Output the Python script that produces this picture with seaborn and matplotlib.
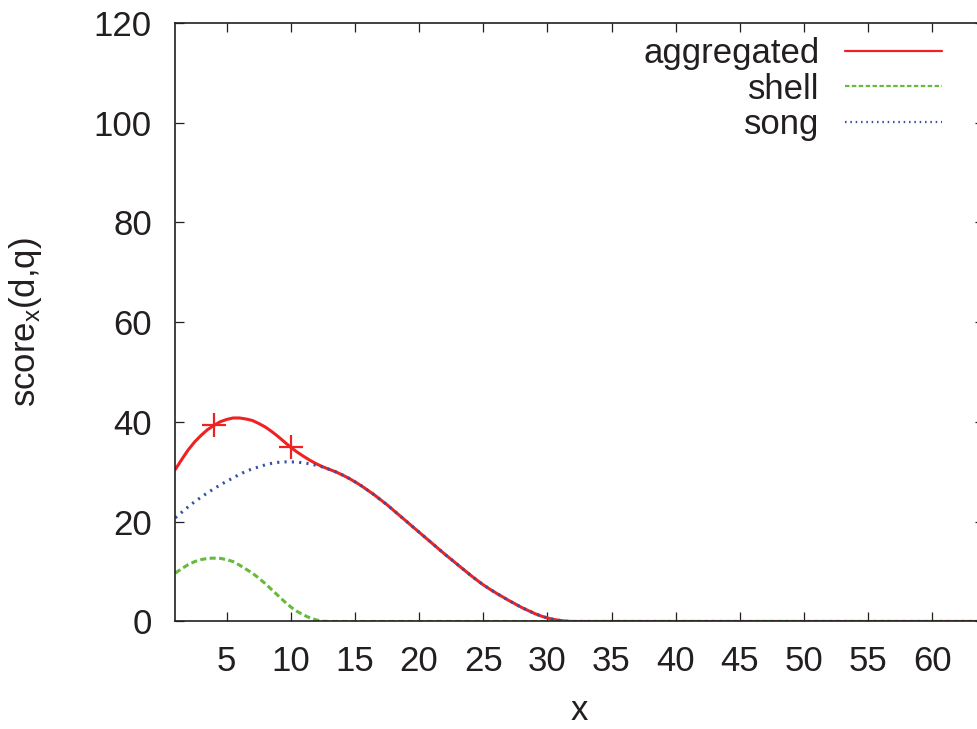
import matplotlib
matplotlib.use("Agg")
import matplotlib.pyplot as plt
from matplotlib.lines import Line2D
import pandas as pd
import seaborn as sns

# position along the sequence: half steps over the active range, whole steps after
x = [i / 2 for i in range(2, 65)] + list(range(33, 65))

# per-source scores at each position
shell = [
    9.7, 10.6, 11.4, 12.0, 12.4, 12.65, 12.7, 12.65, 12.4, 12.0,
    11.3, 10.5, 9.7, 8.7, 7.6, 6.4, 5.2, 4.0, 2.9, 2.0,
    1.3, 0.7, 0.3, 0.05, 0.0, 0.0, 0.0, 0.0, 0.0, 0.0,
    0.0, 0.0, 0.0, 0.0, 0.0, 0.0, 0.0, 0.0, 0.0, 0.0,
    0.0, 0.0, 0.0, 0.0, 0.0, 0.0, 0.0, 0.0, 0.0, 0.0,
    0.0, 0.0, 0.0, 0.0, 0.0, 0.0, 0.0, 0.0, 0.0, 0.0,
    0.0, 0.0, 0.0,
    0.0, 0.0, 0.0, 0.0, 0.0, 0.0, 0.0, 0.0, 0.0, 0.0,
    0.0, 0.0, 0.0, 0.0, 0.0, 0.0, 0.0, 0.0, 0.0, 0.0,
    0.0, 0.0, 0.0, 0.0, 0.0, 0.0, 0.0, 0.0, 0.0, 0.0,
    0.0, 0.0,
]
song = [
    20.8, 21.9, 23.0, 24.0, 24.9, 25.8, 26.6, 27.4, 28.1, 28.8,
    29.5, 30.1, 30.6, 31.0, 31.4, 31.7, 31.9, 32.0, 32.0, 31.95,
    31.8, 31.6, 31.3, 30.95, 30.5, 30.0, 29.4, 28.75, 28.0, 27.2,
    26.3, 25.4, 24.4, 23.4, 22.3, 21.2, 20.1, 19.0, 17.9, 16.8,
    15.7, 14.6, 13.5, 12.45, 11.4, 10.35, 9.3, 8.3, 7.35, 6.5,
    5.7, 4.95, 4.2, 3.5, 2.8, 2.2, 1.6, 1.1, 0.7, 0.4,
    0.2, 0.05, 0.0,
    0.0, 0.0, 0.0, 0.0, 0.0, 0.0, 0.0, 0.0, 0.0, 0.0,
    0.0, 0.0, 0.0, 0.0, 0.0, 0.0, 0.0, 0.0, 0.0, 0.0,
    0.0, 0.0, 0.0, 0.0, 0.0, 0.0, 0.0, 0.0, 0.0, 0.0,
    0.0, 0.0,
]
aggregated = [
    30.5, 32.5, 34.4, 36.0, 37.3, 38.45, 39.3, 40.05, 40.5, 40.8,
    40.8, 40.6, 40.3, 39.7, 39.0, 38.1, 37.1, 36.0, 34.9, 33.95,
    33.1, 32.3, 31.6, 31.0, 30.5, 30.0, 29.4, 28.75, 28.0, 27.2,
    26.3, 25.4, 24.4, 23.4, 22.3, 21.2, 20.1, 19.0, 17.9, 16.8,
    15.7, 14.6, 13.5, 12.45, 11.4, 10.35, 9.3, 8.3, 7.35, 6.5,
    5.7, 4.95, 4.2, 3.5, 2.8, 2.2, 1.6, 1.1, 0.7, 0.4,
    0.2, 0.05, 0.0,
    0.0, 0.0, 0.0, 0.0, 0.0, 0.0, 0.0, 0.0, 0.0, 0.0,
    0.0, 0.0, 0.0, 0.0, 0.0, 0.0, 0.0, 0.0, 0.0, 0.0,
    0.0, 0.0, 0.0, 0.0, 0.0, 0.0, 0.0, 0.0, 0.0, 0.0,
    0.0, 0.0,
]

# positions of the highlighted query hits on the aggregated curve
hit_x = [4, 10]

series_names = ["aggregated", "shell", "song"]
x_ticks = list(range(5, 61, 5))
y_ticks = list(range(0, 121, 20))

colors = {"aggregated": "#ee2222", "shell": "#66bb3a", "song": "#3352a6"}
dash_styles = {"aggregated": None, "shell": (2.0, 1.1), "song": (0.7, 1.7)}

df = pd.DataFrame({"x": x, "aggregated": aggregated, "shell": shell, "song": song})
long_df = df.melt(id_vars="x", value_vars=series_names, var_name="series", value_name="score")
hits = df[df["x"].isin(hit_x)]

sns.set_theme(style="ticks")
plt.rcParams["font.family"] = ["Liberation Sans", "DejaVu Sans"]
plt.rcParams["mathtext.default"] = "regular"
ink = "#231f20"

fig = plt.figure(figsize=(9.77, 7.29), dpi=100)
ax = fig.add_axes([0.1795, 0.1475, 0.8272, 0.821])

# aggregated first, so the component curves show through on top of it
for name in series_names:
    sub = long_df[long_df["series"] == name]
    sns.lineplot(data=sub, x="x", y="score", ax=ax, color=colors[name],
                 linewidth=2.2, legend=False, estimator=None, sort=True)
    ln = ax.get_lines()[-1]
    if dash_styles[name] is not None:
        ln.set_dashes(dash_styles[name])
        ln.set_dash_capstyle("butt")

sns.scatterplot(data=hits, x="x", y="aggregated", ax=ax, marker="+", s=280,
                color=colors["aggregated"], linewidth=1.6, zorder=5, legend=False)

ax.set_xlim(1, 64)
ax.set_ylim(0, 120)
ax.set_xticks(x_ticks)
ax.set_yticks(y_ticks)
ax.tick_params(axis="both", direction="in", length=6.5, width=0.9, colors=ink,
               labelsize=25, top=True, right=True)
ax.tick_params(axis="y", pad=17)
ax.tick_params(axis="x", pad=17)
for side, sp in ax.spines.items():
    sp.set_color(ink)
    sp.set_linewidth(1.2)
    sp.set_visible(side != "right")

ax.set_xlabel("x", fontsize=25, color=ink)
ax.set_ylabel("score$_{x}$(d,q)", fontsize=25, color=ink)
ax.xaxis.set_label_coords(0.5, -0.121)
ax.yaxis.set_label_coords(-0.1625, 0.5)

handles = []
for name in series_names:
    h = Line2D([], [], color=colors[name], linewidth=1.6)
    if dash_styles[name] is not None:
        h.set_dashes(dash_styles[name])
        h.set_dash_capstyle("butt")
    handles.append(h)

leg = ax.legend(handles, series_names, loc="upper right", bbox_to_anchor=(0.9486, 0.977),
                frameon=False, fontsize=25, markerfirst=False, handlelength=2.8,
                handletextpad=0.72, labelspacing=0.08, borderpad=0, borderaxespad=0)
for t in leg.get_texts():
    t.set_color(ink)

fig.savefig("out.png", dpi=100)
